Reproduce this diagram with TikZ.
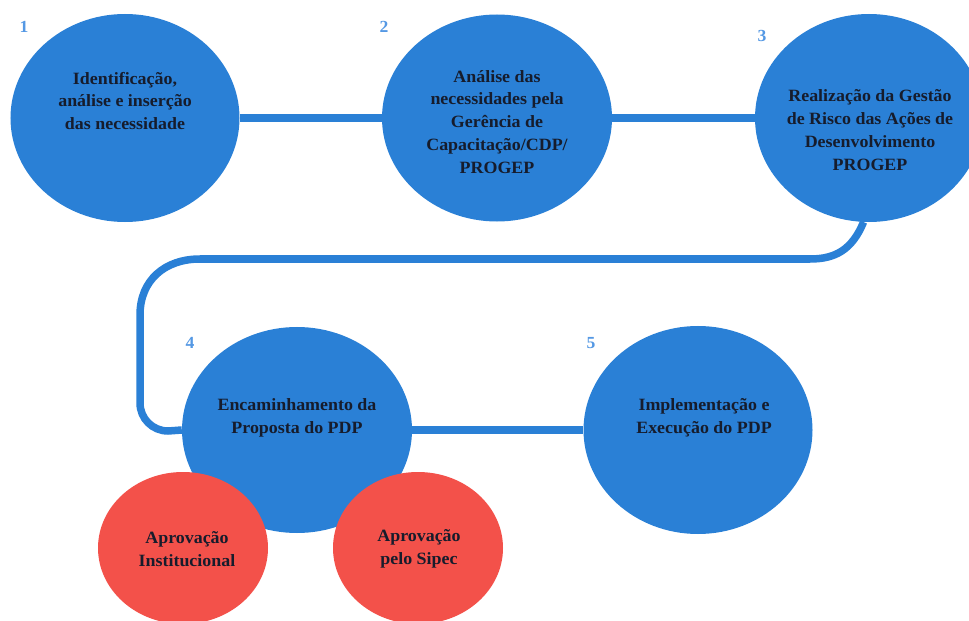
\documentclass[tikz,border=0pt]{standalone}
\usepackage{fontspec}
\setmainfont{Liberation Serif}[FakeStretch=1.04]
\usetikzlibrary{shapes.geometric,backgrounds}
\definecolor{stepblue}{RGB}{42,128,214}
\definecolor{stepred}{RGB}{243,81,74}
\definecolor{numblue}{RGB}{84,152,228}
\definecolor{inktext}{RGB}{22,28,44}
\tikzset{
  bluebox/.style={ellipse,fill=stepblue,draw=none,inner sep=0pt},
  redbox/.style={ellipse,fill=stepred,draw=none,inner sep=0pt,minimum width=170bp,minimum height=152bp},
  boxtext/.style={align=center,text=inktext,inner sep=0pt,font=\bfseries\fontsize{17.3}{23}\selectfont},
  numtext/.style={text=numblue,inner sep=0pt,font=\bfseries\fontsize{17}{20}\selectfont},
  conn/.style={draw=stepblue,line width=7.5bp}
}
\begin{document}
\begin{tikzpicture}[x=1bp,y=-1bp]
\useasboundingbox (0,0) rectangle (969,621);
% blue steps
\node[bluebox,minimum width=229bp,minimum height=208bp] (e1) at (125,118) {};
\node[bluebox,minimum width=230bp,minimum height=207bp] (e2) at (497,118) {};
\node[bluebox,minimum width=228bp,minimum height=208bp] (e3) at (869,118) {};
\node[bluebox,minimum width=230bp,minimum height=206bp] (e4) at (297,430) {};
\node[bluebox,minimum width=229bp,minimum height=208bp] (e5) at (698,430) {};
% red approvals
\node[redbox] (r1) at (183,548) {};
\node[redbox] (r2) at (418,548) {};
% connectors
\begin{scope}[on background layer]
\fill[white] (0,0) rectangle (969,621);
\draw[conn] (e1) -- (e2);
\draw[conn] (e2) -- (e3);
\draw[conn] (e3.-93) .. controls (852,250) and (835,259) .. (810,259)
  -- (200,259) .. controls (165,259) and (140,280) .. (140,315) -- (140,403)
  to[out=-90,in=180] (168,431) -- (e4.west);
\draw[conn] (e4) -- (e5);
\end{scope}
% texts
\node[boxtext] (t1) at (125,101) {Identificação,\\análise e inserção\\das necessidade};
\node[boxtext] (t2) at (497,122) {Análise das\\necessidades pela\\Gerência de\\Capacitação/CDP/\\PROGEP};
\node[boxtext] (t3) at (870,130) {Realização da Gestão\\de Risco das Ações de\\Desenvolvimento\\PROGEP};
\node[boxtext] (t4) at (297,418) {Encaminhamento da\\Proposta do PDP};
\node[boxtext] (t5) at (704,418) {Implementação e\\Execução do PDP};
\node[boxtext] (t6) at (187,549) {Aprovação\\Institucional};
\node[boxtext] (t7) at (419,549) {Aprovação\\pelo Sipec};
% numbers
\node[numtext] (n1) at (24,27) {1};
\node[numtext] (n2) at (384,27) {2};
\node[numtext] (n3) at (762,36) {3};
\node[numtext] (n4) at (190,343) {4};
\node[numtext] (n5) at (591,343) {5};
\end{tikzpicture}
\end{document}
